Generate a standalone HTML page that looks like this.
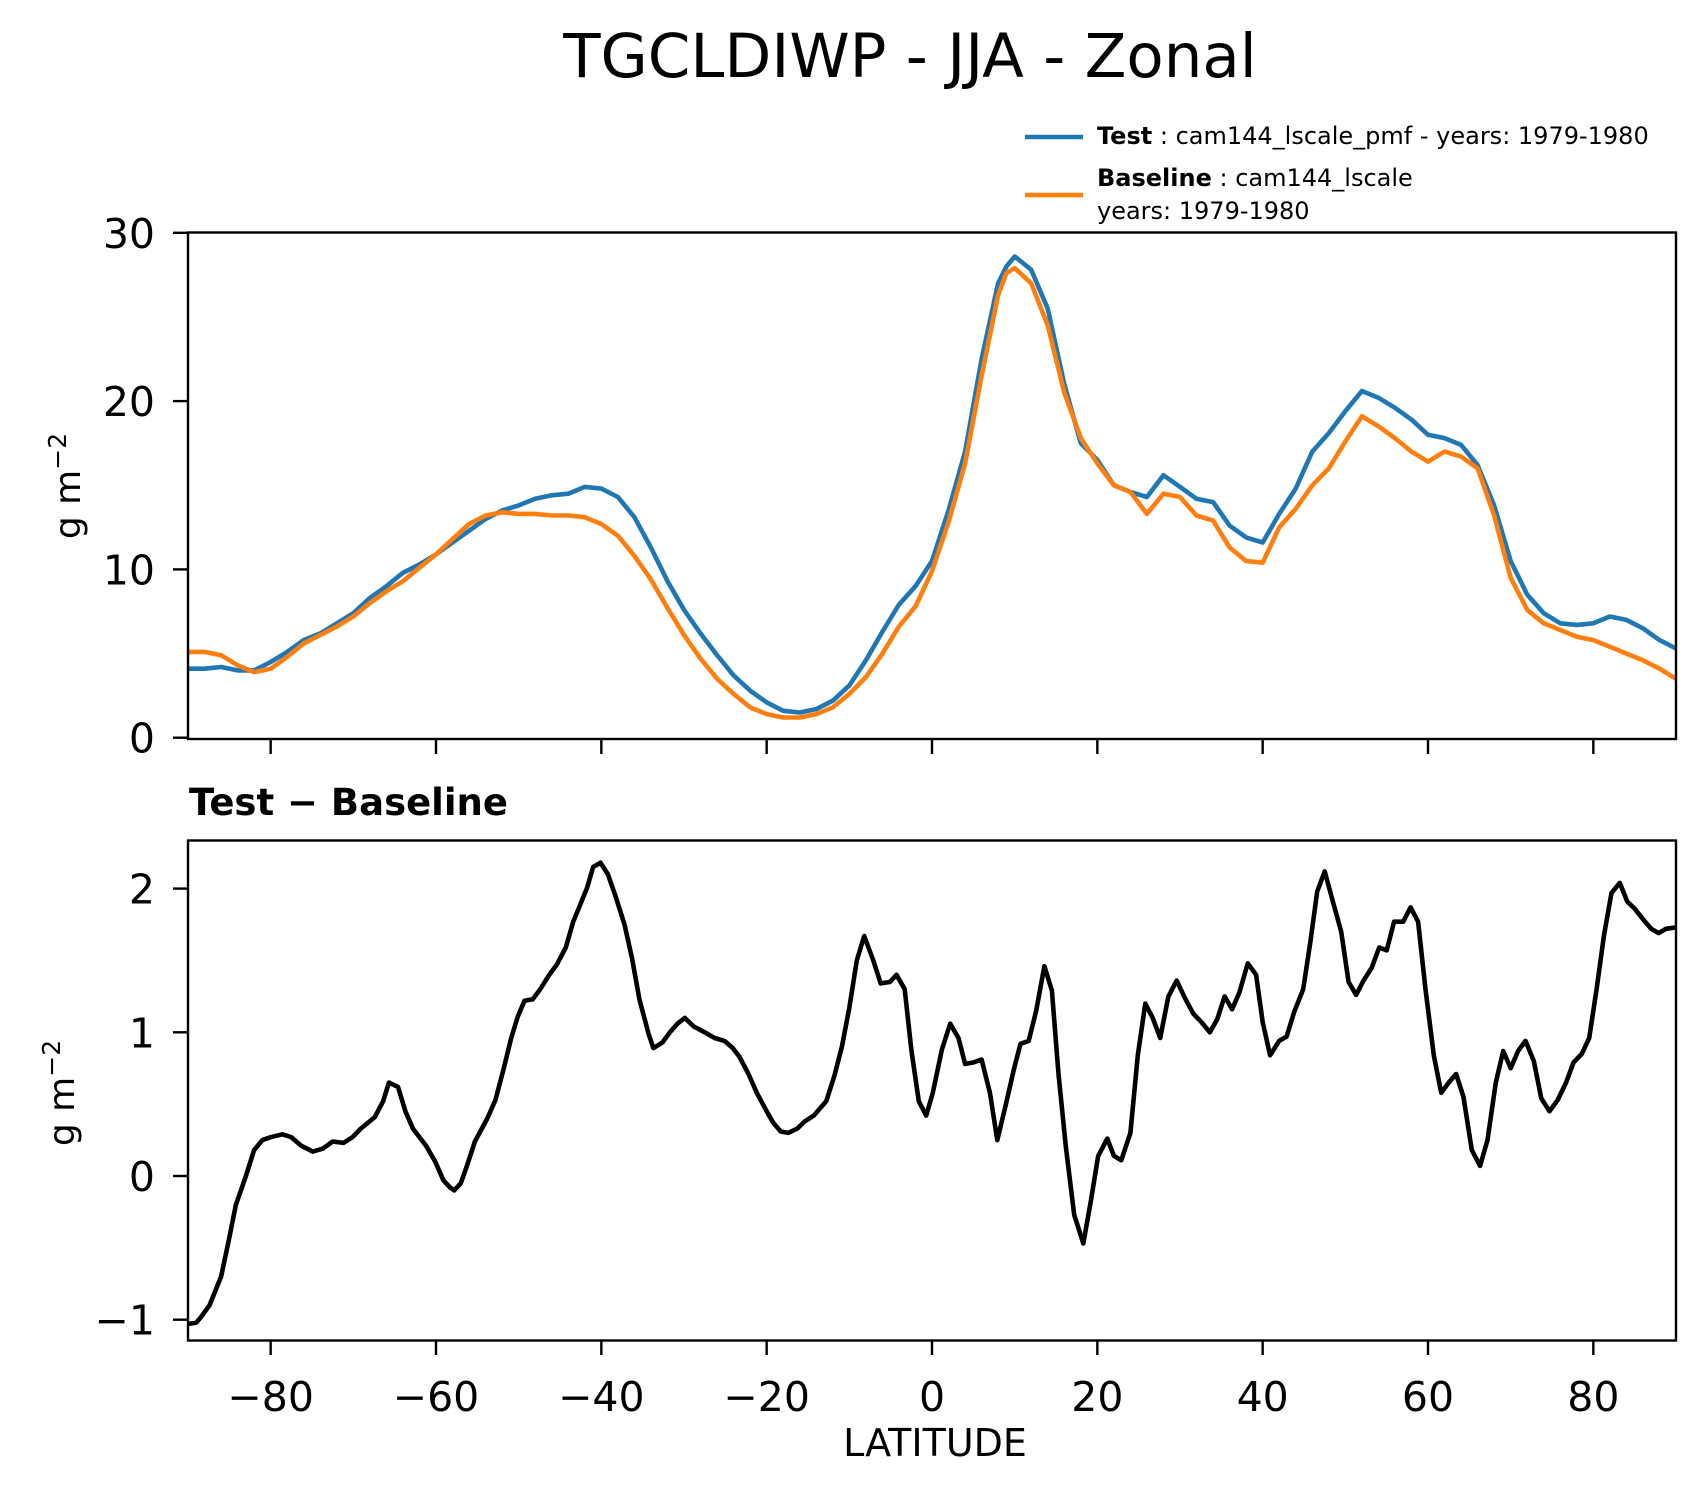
<!DOCTYPE html>
<html><head><meta charset="utf-8"><style>
body{margin:0;background:#fff}
svg{display:block;font-family:"DejaVu Sans","Liberation Sans",sans-serif}
</style></head><body>
<svg id="chart" width="1705" height="1496" viewBox="0 0 1705 1496" xmlns="http://www.w3.org/2000/svg">
<rect width="1705" height="1496" fill="#fff"/>
<text x="910" y="77" font-size="61" text-anchor="middle">TGCLDIWP - JJA - Zonal</text>
<g>
<line x1="1025" y1="137" x2="1083" y2="137" stroke="#1f77b4" stroke-width="4.6"/>
<text x="1097" y="144" font-size="24"><tspan font-weight="bold">Test</tspan> : cam144_lscale_pmf - years: 1979-1980</text>
<line x1="1025" y1="195" x2="1083" y2="195" stroke="#ff7f0e" stroke-width="4.6"/>
<text x="1097" y="186" font-size="24"><tspan font-weight="bold">Baseline</tspan> : cam144_lscale</text>
<text x="1097" y="219" font-size="24">years: 1979-1980</text>
</g>
<g id="topPanel"></g>
<g id="botPanel"></g>
<text x="189" y="815" font-size="37" font-weight="bold">Test − Baseline</text>
<text transform="translate(80,486) rotate(-90)" font-size="36" text-anchor="middle">g m<tspan dy="-14" font-size="25">−2</tspan></text>
<text transform="translate(74,1093) rotate(-90)" font-size="36" text-anchor="middle">g m<tspan dy="-14" font-size="25">−2</tspan></text>
<text x="935" y="1456" font-size="38" text-anchor="middle">LATITUDE</text>
</svg>
<script>
const latMain = [-90,-88,-86,-84,-82,-80,-78,-76,-74,-72,-70,-68,-66,-64,-62,-60,-58,-56,-54,-52,-50,-48,-46,-44,-42,-40,-38,-36,-34,-32,-30,-28,-26,-24,-22,-20,-18,-16,-14,-12,-10,-8,-6,-4,-2,0,2,4,6,8,9,10,12,14,16,18,20,22,24,26,28,30,32,34,36,38,40,42,44,46,48,50,52,54,56,58,60,62,64,66,68,70,72,74,76,78,80,82,84,86,88,90];
const testVals = [4.1,4.1,4.2,4.0,4.0,4.5,5.1,5.8,6.2,6.8,7.4,8.3,9.0,9.8,10.3,10.9,11.6,12.3,13.0,13.5,13.8,14.2,14.4,14.5,14.9,14.8,14.3,13.1,11.3,9.3,7.6,6.2,4.9,3.7,2.8,2.1,1.6,1.5,1.7,2.2,3.1,4.6,6.3,7.9,9.0,10.5,13.5,17.0,22.5,27.0,28.0,28.6,27.8,25.5,21.0,17.5,16.5,15.0,14.6,14.3,15.6,14.9,14.2,14.0,12.6,11.9,11.6,13.3,14.8,17.0,18.1,19.4,20.6,20.2,19.6,18.9,18.0,17.8,17.4,16.2,13.8,10.5,8.5,7.4,6.8,6.7,6.8,7.2,7.0,6.5,5.8,5.3];
const baseVals = [5.1,5.1,4.9,4.3,3.9,4.1,4.8,5.6,6.1,6.6,7.2,8.0,8.7,9.3,10.1,10.9,11.8,12.7,13.2,13.4,13.3,13.3,13.2,13.2,13.1,12.7,12.0,10.8,9.4,7.7,6.1,4.7,3.5,2.6,1.8,1.4,1.2,1.2,1.4,1.8,2.6,3.6,5.0,6.6,7.8,9.9,12.8,16.3,21.5,26.3,27.6,27.9,27.0,24.5,20.5,17.8,16.3,15.0,14.6,13.3,14.5,14.3,13.2,12.9,11.3,10.5,10.4,12.5,13.6,15.0,16.0,17.6,19.1,18.5,17.8,17.0,16.4,17.0,16.7,16.0,13.2,9.5,7.6,6.8,6.4,6.0,5.8,5.4,5.0,4.6,4.1,3.5];
const latDiff = [-90,-89,-88.4,-87.4,-86,-85,-84.2,-83,-82,-81,-80,-78.6,-77.5,-76.3,-74.9,-73.7,-72.5,-71.2,-70.1,-69.1,-67.4,-66.4,-65.7,-64.6,-63.7,-62.8,-61.2,-60.1,-59.1,-58.3,-57.8,-57,-56.2,-55.3,-53.8,-52.8,-51.8,-50.9,-50.1,-49.3,-48.3,-47.4,-46.3,-45.4,-44.3,-43.4,-42.6,-41.7,-41,-40.1,-39.2,-38.3,-37.2,-36.3,-35.4,-34.3,-33.7,-32.6,-31.7,-30.8,-29.9,-28.8,-27.5,-26.3,-25.1,-24.1,-23.3,-22.2,-21.2,-20,-19.2,-18.3,-17.4,-16.3,-15.4,-14.3,-13.7,-12.8,-11.8,-10.9,-10,-9.1,-8.2,-7.1,-6.2,-5.1,-4.3,-3.3,-2.5,-1.6,-0.7,0.1,1.2,2.2,3.2,4,5,6,7,7.9,8.9,9.9,10.7,11.7,12.6,13.6,14.5,15.3,16.2,17.2,18.3,19.2,20.1,21.2,22,22.9,24,24.9,25.8,26.7,27.6,28.6,29.6,30.5,31.6,32.6,33.6,34.5,35.4,36.3,37.2,38.2,39.2,40,40.9,42,42.9,43.8,44.9,45.8,46.6,47.5,48.4,49.5,50.4,51.3,52.2,53.2,54.1,55,55.9,57,57.9,58.8,59.7,60.7,61.6,62.5,63.4,64.3,65.3,66.3,67.2,68.2,69.1,70,70.9,71.8,72.8,73.7,74.7,75.7,76.7,77.6,78.6,79.5,80.4,81.3,82.2,83.2,84.1,85,86.1,87,87.9,88.8,90];
const diffVals = [-1.03,-1.02,-0.98,-0.9,-0.7,-0.43,-0.2,0,0.18,0.25,0.27,0.29,0.27,0.21,0.17,0.19,0.24,0.23,0.27,0.33,0.41,0.52,0.65,0.62,0.45,0.33,0.21,0.1,-0.03,-0.08,-0.1,-0.05,0.08,0.24,0.4,0.53,0.75,0.96,1.11,1.22,1.23,1.3,1.4,1.47,1.59,1.77,1.88,2.01,2.15,2.18,2.1,1.95,1.75,1.52,1.23,0.99,0.89,0.93,1.0,1.06,1.1,1.04,1.0,0.96,0.94,0.89,0.83,0.71,0.58,0.45,0.37,0.31,0.3,0.33,0.38,0.42,0.46,0.52,0.7,0.9,1.17,1.5,1.67,1.5,1.34,1.35,1.4,1.3,0.88,0.52,0.42,0.58,0.88,1.06,0.96,0.78,0.79,0.81,0.58,0.25,0.49,0.74,0.92,0.94,1.15,1.46,1.29,0.71,0.2,-0.27,-0.47,-0.18,0.14,0.26,0.14,0.11,0.3,0.84,1.2,1.1,0.96,1.25,1.36,1.25,1.13,1.07,1.0,1.09,1.25,1.16,1.28,1.48,1.4,1.07,0.84,0.94,0.97,1.14,1.3,1.64,1.98,2.12,1.93,1.7,1.35,1.26,1.36,1.45,1.59,1.57,1.77,1.77,1.87,1.77,1.3,0.84,0.58,0.65,0.71,0.55,0.18,0.07,0.25,0.65,0.87,0.75,0.87,0.94,0.8,0.54,0.45,0.53,0.65,0.79,0.85,0.96,1.3,1.68,1.97,2.04,1.91,1.86,1.78,1.72,1.69,1.72,1.73];
const xTicks = [-80,-60,-40,-20,0,20,40,60,80];
const xTickLabels = ["−80","−60","−40","−20","0","20","40","60","80"];
const topYTicks = [0,10,20,30];
const botYTicks = [-1,0,1,2];
const botYTickLabels = ["−1","0","1","2"];

const NS = 'http://www.w3.org/2000/svg';
const L = 188, R = 1676;
const xS = v => L + (v + 90) / 180 * (R - L);
const yTop = v => 737.7 - v * 16.83;
const yBot = v => 1176 - v * 143.7;
function mk(tag, attrs, parent) {
  const e = document.createElementNS(NS, tag);
  for (const k in attrs) e.setAttribute(k, attrs[k]);
  parent.appendChild(e);
  return e;
}
function pathD(xs, ys, yf) {
  return xs.map((x, i) => (i ? 'L' : 'M') + xS(x).toFixed(1) + ' ' + yf(ys[i]).toFixed(1)).join(' ');
}
const topG = document.getElementById('topPanel');
const botG = document.getElementById('botPanel');

const pTest = mk('path', {d: pathD(latMain, testVals, yTop), fill: 'none', stroke: '#1f77b4', 'stroke-width': 4.6, 'stroke-linejoin': 'round'}, topG);


const pBase = mk('path', {d: pathD(latMain, baseVals, yTop), fill: 'none', stroke: '#ff7f0e', 'stroke-width': 4.6, 'stroke-linejoin': 'round'}, topG);


const pDiff = mk('path', {d: pathD(latDiff, diffVals, yBot), fill: 'none', stroke: '#000', 'stroke-width': 4.6, 'stroke-linejoin': 'round'}, botG);



const f1 = mk('rect', {x: L, y: 232.5, width: R - L, height: 506.5, fill: 'none', stroke: '#000', 'stroke-width': 2.4}, topG);


const f2 = mk('rect', {x: L, y: 840.5, width: R - L, height: 500, fill: 'none', stroke: '#000', 'stroke-width': 2.4}, botG);



xTicks.forEach((t, i) => {
  const x = xS(t);
  const a = mk('line', {x1: x, y1: 739, x2: x, y2: 754, stroke: '#000', 'stroke-width': 2.4}, topG);
  
  
  const b = mk('line', {x1: x, y1: 1340.5, x2: x, y2: 1355, stroke: '#000', 'stroke-width': 2.4}, botG);
  
  
  const tx = mk('text', {x: x, y: 1411, 'font-size': 41, 'text-anchor': 'middle'}, botG);
  tx.textContent = xTickLabels[i];
  
  
});
topYTicks.forEach(t => {
  const y = yTop(t);
  const a = mk('line', {x1: 173, y1: y, x2: L, y2: y, stroke: '#000', 'stroke-width': 2.4}, topG);
  
  
  const tx = mk('text', {x: 155, y: y + 15, 'font-size': 41, 'text-anchor': 'end'}, topG);
  tx.textContent = String(t);
  
  
});
botYTicks.forEach((t, i) => {
  const y = yBot(t);
  const a = mk('line', {x1: 173, y1: y, x2: L, y2: y, stroke: '#000', 'stroke-width': 2.4}, botG);
  
  
  const tx = mk('text', {x: 155, y: y + 15, 'font-size': 41, 'text-anchor': 'end'}, botG);
  tx.textContent = botYTickLabels[i];
  
  
});
</script>
</body></html>
